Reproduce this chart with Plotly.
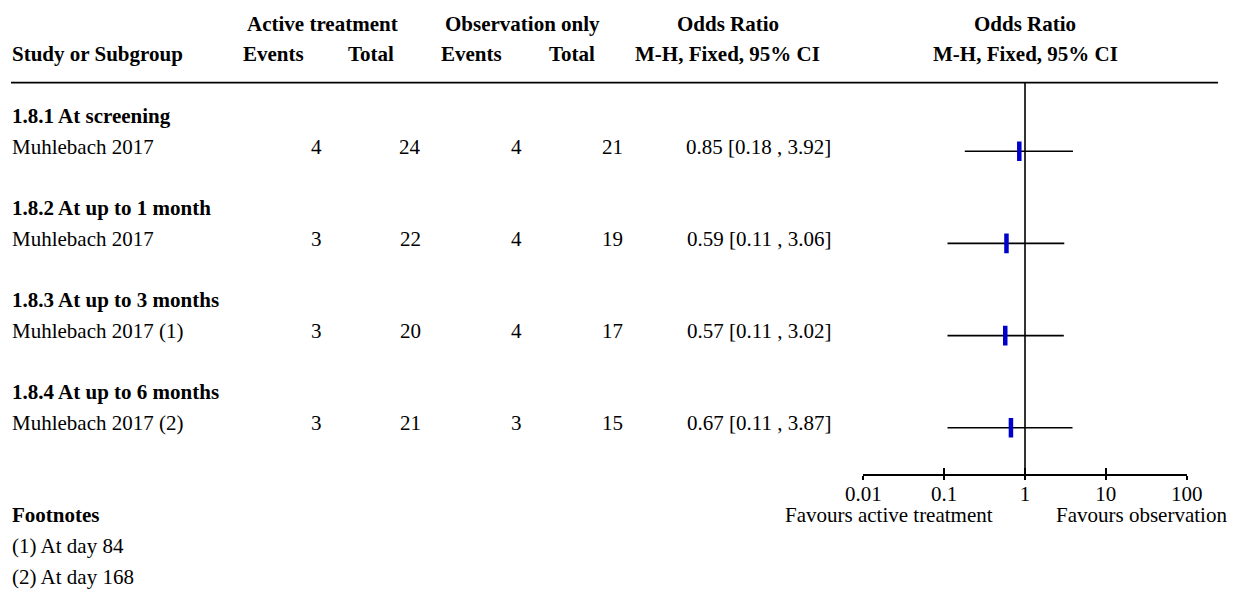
import plotly.graph_objects as go

# ---------------- data ----------------
subgroups = ["1.8.1 At screening", "1.8.2 At up to 1 month",
             "1.8.3 At up to 3 months", "1.8.4 At up to 6 months"]
studies = ["Muhlebach 2017", "Muhlebach 2017",
           "Muhlebach 2017 (1)", "Muhlebach 2017 (2)"]
active_events = [4, 3, 3, 3]
active_total = [24, 22, 20, 21]
obs_events = [4, 4, 4, 3]
obs_total = [21, 19, 17, 15]
odds_ratio = [0.85, 0.59, 0.57, 0.67]
ci_low = [0.18, 0.11, 0.11, 0.11]
ci_high = [3.92, 3.06, 3.02, 3.87]
footnotes = ["(1) At day 84", "(2) At day 168"]
tick_vals = [0.01, 0.1, 1, 10, 100]
tick_text = ["0.01", "0.1", "1", "10", "100"]
favours_left = "Favours active treatment"
favours_right = "Favours observation"

# ---------------- layout constants ----------------
PAGE_OFF = 8                 # default body margin of the html page
W, H = 1239 - PAGE_OFF, 590 - PAGE_OFF
FONT = "Liberation Serif"
FS = 21
ROW0 = 23.7      # page-pixel centre of first text row
PITCH = 30.73    # pixel height of a text row
Y_TOP = (PAGE_OFF - ROW0) / PITCH
Y_BOT = (PAGE_OFF + H - ROW0) / PITCH
AX_LEFT, AX_RIGHT = 863.3, 1186.7
AXIS_Y = 475.0
HEADER_LINE_Y = 82.7
MARK_OFF = 0.15
BLUE = "#0000cc"


def px(x):
    return (x - PAGE_OFF) / W


def py(y):
    return 1 - (y - PAGE_OFF) / H


annotations = []


def add_text(xp, row, text, anchor="left", bold=False):
    annotations.append(dict(
        x=px(xp), xref="paper", y=row, yref="y",
        text=f"<b>{text}</b>" if bold else text,
        showarrow=False, xanchor=anchor, yanchor="middle",
        font=dict(family=FONT, size=FS, color="black"),
    ))


# headers
add_text(322, 0, "Active treatment", "center", True)
add_text(522, 0, "Observation only", "center", True)
add_text(727.5, 0, "Odds Ratio", "center", True)
add_text(1025, 0, "Odds Ratio", "center", True)
add_text(10, 1, "Study or Subgroup", "left", True)
add_text(273, 1, "Events", "center", True)
add_text(371, 1, "Total", "center", True)
add_text(471.5, 1, "Events", "center", True)
add_text(572, 1, "Total", "center", True)
add_text(727, 1, "M-H, Fixed, 95% CI", "center", True)
add_text(1025, 1, "M-H, Fixed, 95% CI", "center", True)

study_rows = []
for i in range(len(studies)):
    head_row = 3 + 3 * i
    row = head_row + 1
    study_rows.append(row + MARK_OFF)
    add_text(10, head_row, subgroups[i], "left", True)
    add_text(10, row, studies[i], "left")
    add_text(324, row, str(active_events[i]), "right")
    add_text(423, row, str(active_total[i]), "right")
    add_text(524, row, str(obs_events[i]), "right")
    add_text(625, row, str(obs_total[i]), "right")
    add_text(833, row, f"{odds_ratio[i]:.2f} [{ci_low[i]:.2f} , {ci_high[i]:.2f}]", "right")

# footnotes
add_text(10, 16, "Footnotes", "left", True)
for j, fn in enumerate(footnotes):
    add_text(10, 17 + j, fn, "left")

# favours labels
add_text(995, 16, favours_left, "right")
add_text(1054, 16, favours_right, "left")

# ---------------- traces ----------------
ci_x, ci_y = [], []
for lo, hi, r in zip(ci_low, ci_high, study_rows):
    ci_x += [lo, hi, None]
    ci_y += [r, r, None]

fig = go.Figure()
fig.add_trace(go.Scatter(
    x=ci_x, y=ci_y, mode="lines",
    line=dict(color="black", width=1.6),
    hoverinfo="skip",
))
fig.add_trace(go.Scatter(
    x=odds_ratio, y=study_rows, mode="markers",
    marker=dict(symbol="line-ns", size=14, color=BLUE,
                line=dict(color=BLUE, width=4.5)),
    hoverinfo="skip",
))
# invisible trace on the overlay axis (for the downward tick stubs)
fig.add_trace(go.Scatter(
    x=[1], y=[Y_TOP], mode="markers", xaxis="x2", yaxis="y",
    marker=dict(size=1, opacity=0), hoverinfo="skip",
))

shapes = [
    # header rule
    dict(type="line", xref="paper", yref="paper",
         x0=px(11), x1=px(1218), y0=py(HEADER_LINE_Y), y1=py(HEADER_LINE_Y),
         line=dict(color="black", width=1.8)),
    # line of no effect
    dict(type="line", xref="x", yref="paper",
         x0=1, x1=1, y0=py(AXIS_Y), y1=py(HEADER_LINE_Y),
         line=dict(color="black", width=1.6)),
]

fig.update_layout(
    width=W, height=H,
    margin=dict(l=0, r=0, t=0, b=0, pad=0, autoexpand=False),
    paper_bgcolor="white", plot_bgcolor="white",
    showlegend=False,
    font=dict(family=FONT, size=FS, color="black"),
    annotations=annotations,
    shapes=shapes,
    xaxis=dict(
        type="log", range=[-2, 2],
        domain=[px(AX_LEFT), px(AX_RIGHT)],
        anchor="free", position=py(AXIS_Y),
        showline=True, linecolor="black", linewidth=1.6,
        ticks="inside", ticklen=6, tickwidth=1.6, tickcolor="black",
        tickvals=tick_vals, ticktext=tick_text,
        tickfont=dict(family=FONT, size=FS, color="black"),
        showgrid=False, zeroline=False, fixedrange=True, automargin=False,
    ),
    xaxis2=dict(
        type="log", range=[-2, 2], overlaying="x", matches="x",
        domain=[px(AX_LEFT), px(AX_RIGHT)],
        anchor="free", position=py(AXIS_Y),
        showline=False, showticklabels=False,
        ticks="outside", ticklen=4, tickwidth=1.6, tickcolor="black",
        tickvals=tick_vals,
        showgrid=False, zeroline=False, fixedrange=True, automargin=False,
    ),
    yaxis=dict(range=[Y_BOT, Y_TOP], domain=[0, 1], visible=False,
               fixedrange=True, automargin=False),
)

fig.write_html("out.html")
